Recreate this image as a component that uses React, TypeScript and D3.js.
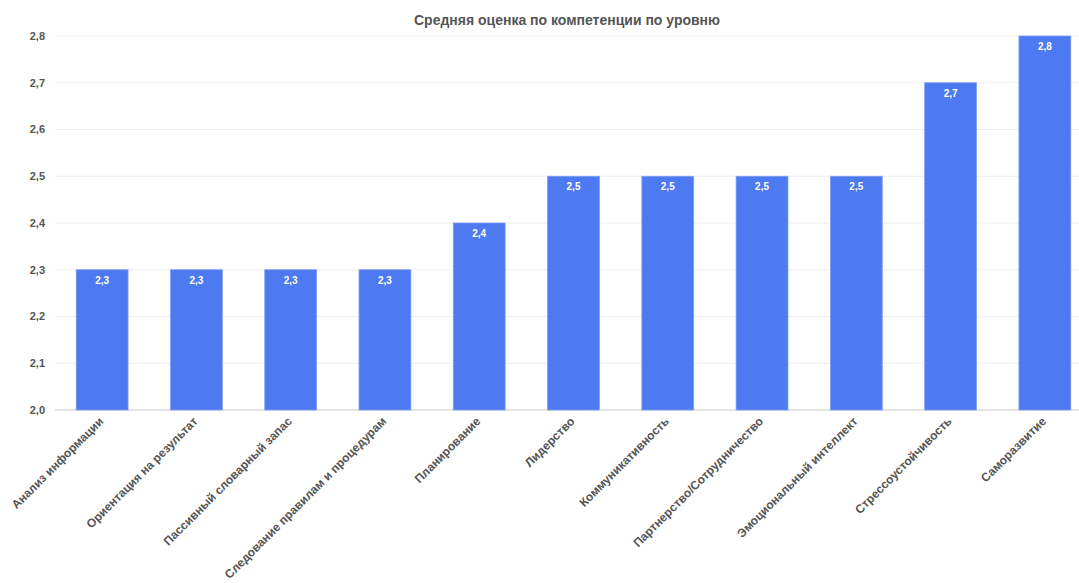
import React from "react";
import * as d3 from "d3";

const categories = [
  "Анализ информации",
  "Ориентация на результат",
  "Пассивный словарный запас",
  "Следование правилам и процедурам",
  "Планирование",
  "Лидерство",
  "Коммуникативность",
  "Партнерство/Сотрудничество",
  "Эмоциональный интеллект",
  "Стрессоустойчивость",
  "Саморазвитие",
];
const values = [2.3, 2.3, 2.3, 2.3, 2.4, 2.5, 2.5, 2.5, 2.5, 2.7, 2.8];
const yTicks = [2.0, 2.1, 2.2, 2.3, 2.4, 2.5, 2.6, 2.7, 2.8];
const title = "Средняя оценка по компетенции по уровню";

const W = 1079;
const H = 583;
const fmt = (v: number) => v.toFixed(1).replace(".", ",");

export default function App() {
  const x = d3.scaleBand<string>().domain(categories).range([55, 1092]).paddingInner(0.45).paddingOuter(0.225);
  const y = d3.scaleLinear().domain([2.0, 2.8]).range([410, 36]);
  const font = "'Liberation Sans', Arial, sans-serif";
  return (
    <svg width={W} height={H} style={{ position: "absolute", left: 0, top: 0, background: "#fff" }} fontFamily={font}>
      <text x={567} y={25} textAnchor="middle" fontSize={14} fontWeight="bold" fill="#555">{title}</text>
      {yTicks.map((t) => (
        <g key={t}>
          <line x1={55} x2={W} y1={y(t)} y2={y(t)} stroke={t === 2.0 ? "#ccc" : "#eee"} strokeWidth={1} />
          <text x={45} y={y(t)} dy="0.35em" textAnchor="end" fontSize={11} fontWeight="bold" fill="#555">{fmt(t)}</text>
        </g>
      ))}
      {categories.map((c, i) => {
        const x0 = x(c)!;
        const bw = x.bandwidth();
        const cx = x0 + bw / 2;
        return (
          <g key={c}>
            <rect x={x0} y={y(values[i])} width={bw} height={y(2.0) - y(values[i])} fill="#4d79f1" stroke="#7d9ef5" strokeWidth={0.8} />
            <text x={cx} y={y(values[i]) + 14} textAnchor="middle" fontSize={10} fontWeight="bold" fill="#fff">{fmt(values[i])}</text>
            <text transform={`translate(${cx + 2},${422}) rotate(-45)`} textAnchor="end" fontSize={12} fontWeight="bold" fill="#555">{c}</text>
          </g>
        );
      })}
    </svg>
  );
}
